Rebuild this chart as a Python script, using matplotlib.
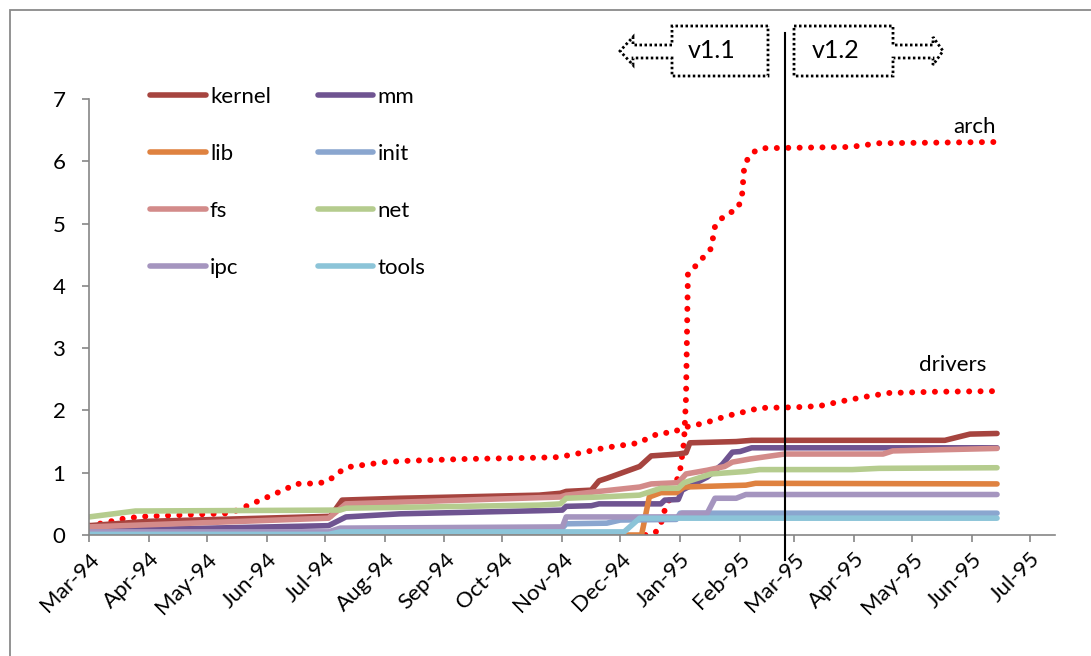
import numpy as np
import pandas as pd
import matplotlib
matplotlib.use('Agg')
import matplotlib.pyplot as plt
import matplotlib.dates as mdates
from matplotlib.patches import Polygon, Rectangle

plt.rcParams['font.family'] = ['Lato', 'DejaVu Sans']
plt.rcParams['font.size'] = 16

# relative size of each subtree (date, value)
kernel_d = ['1994-03-01', '1994-04-01', '1994-07-04', '1994-07-10', '1994-08-09', '1994-10-20',
            '1994-10-31', '1994-11-03', '1994-11-16', '1994-11-20', '1994-11-24', '1994-12-11',
            '1994-12-17', '1994-12-31', '1995-01-04', '1995-01-06', '1995-01-30', '1995-02-07',
            '1995-05-18', '1995-05-31', '1995-06-14']
kernel_v = [0.15, 0.22, 0.30, 0.56, 0.59, 0.64, 0.67, 0.70, 0.72, 0.87, 0.91, 1.10,
            1.27, 1.30, 1.32, 1.48, 1.50, 1.52, 1.52, 1.62, 1.63]

mm_d = ['1994-03-01', '1994-07-03', '1994-07-12', '1994-08-09', '1994-10-20', '1994-11-01',
        '1994-11-03', '1994-11-16', '1994-11-20', '1994-12-22', '1994-12-24', '1994-12-31',
        '1995-01-02', '1995-01-15', '1995-01-23', '1995-01-28', '1995-02-01', '1995-02-07',
        '1995-06-14']
mm_v = [0.07, 0.15, 0.29, 0.34, 0.39, 0.40, 0.46, 0.47, 0.50, 0.50, 0.56, 0.57,
        0.72, 0.93, 1.14, 1.33, 1.34, 1.40, 1.40]

lib_d = ['1994-07-01', '1994-12-12', '1994-12-16', '1994-12-22', '1994-12-30', '1995-01-03',
         '1995-02-04', '1995-02-09', '1995-06-14']
lib_v = [0.0, 0.0, 0.61, 0.68, 0.68, 0.77, 0.80, 0.83, 0.82]

init_d = ['1994-03-01', '1994-07-03', '1994-07-10', '1994-11-01', '1994-11-03', '1994-11-24',
          '1994-12-01', '1994-12-30', '1995-01-01', '1995-06-14']
init_v = [0.04, 0.04, 0.10, 0.11, 0.18, 0.19, 0.24, 0.25, 0.35, 0.35]

fs_d = ['1994-03-01', '1994-07-03', '1994-07-12', '1994-10-31', '1994-11-03', '1994-11-20',
        '1994-12-11', '1994-12-17', '1994-12-31', '1995-01-04', '1995-01-15', '1995-01-24',
        '1995-01-28', '1995-02-06', '1995-02-24', '1995-04-16', '1995-04-21', '1995-06-14']
fs_v = [0.13, 0.27, 0.50, 0.61, 0.64, 0.70, 0.77, 0.82, 0.84, 0.98, 1.04, 1.10,
        1.17, 1.22, 1.30, 1.30, 1.35, 1.39]

net_d = ['1994-03-01', '1994-03-25', '1994-07-09', '1994-07-12', '1994-10-20', '1994-10-31',
         '1994-11-03', '1994-11-20', '1994-12-11', '1994-12-22', '1994-12-31', '1995-01-03',
         '1995-01-17', '1995-02-04', '1995-02-11', '1995-03-31', '1995-04-14', '1995-06-14']
net_v = [0.29, 0.385, 0.40, 0.43, 0.48, 0.50, 0.59, 0.61, 0.64, 0.75, 0.75, 0.84,
         0.98, 1.02, 1.05, 1.05, 1.07, 1.08]

ipc_d = ['1994-03-01', '1994-07-03', '1994-07-09', '1994-11-01', '1994-11-03', '1994-12-31',
         '1995-01-02', '1995-01-15', '1995-01-19', '1995-01-30', '1995-02-04', '1995-06-14']
ipc_v = [0.05, 0.05, 0.11, 0.13, 0.29, 0.29, 0.35, 0.35, 0.59, 0.59, 0.65, 0.65]

tools_d = ['1994-03-01', '1994-07-03', '1994-07-09', '1994-12-03', '1994-12-11', '1995-06-14']
tools_v = [0.01, 0.01, 0.05, 0.05, 0.27, 0.27]

arch_d = ['1994-12-14', '1994-12-19', '1994-12-22', '1994-12-24', '1994-12-29', '1995-01-01',
          '1995-01-03', '1995-01-04', '1995-01-05', '1995-01-09', '1995-01-13', '1995-01-17',
          '1995-01-19', '1995-01-23', '1995-01-31', '1995-02-02', '1995-02-03', '1995-02-05',
          '1995-02-09', '1995-02-13', '1995-03-30', '1995-04-14', '1995-06-14']
arch_v = [0.0, 0.03, 0.18, 0.40, 0.75, 1.05, 1.5, 2.2, 4.2, 4.32, 4.46, 4.6,
          4.95, 5.1, 5.25, 5.45, 5.85, 6.05, 6.17, 6.21, 6.23, 6.29, 6.31]

drivers_d = ['1994-03-01', '1994-03-08', '1994-03-20', '1994-03-31', '1994-05-13', '1994-05-19',
             '1994-05-31', '1994-06-11', '1994-06-16', '1994-06-28', '1994-07-03', '1994-07-08',
             '1994-07-13', '1994-07-20', '1994-08-01', '1994-08-12', '1994-09-11', '1994-10-18',
             '1994-10-30', '1994-11-11', '1994-11-23', '1994-12-11', '1994-12-16', '1994-12-22',
             '1994-12-28', '1995-01-02', '1995-01-14', '1995-01-25', '1995-02-05', '1995-02-11',
             '1995-03-01', '1995-03-14', '1995-03-26', '1995-04-07', '1995-04-19', '1995-05-13',
             '1995-06-14']
drivers_v = [0.15, 0.19, 0.27, 0.30, 0.35, 0.43, 0.59, 0.74, 0.82, 0.83, 0.87, 1.0,
             1.09, 1.12, 1.17, 1.19, 1.22, 1.24, 1.25, 1.32, 1.40, 1.48, 1.57, 1.64,
             1.64, 1.72, 1.80, 1.91, 1.99, 2.04, 2.05, 2.07, 2.15, 2.22, 2.28, 2.30, 2.31]

release_12 = '1995-02-24'

series = [
    ('kernel', kernel_d, kernel_v, '#A6443F'),
    ('mm', mm_d, mm_v, '#6F5491'),
    ('lib', lib_d, lib_v, '#DF8240'),
    ('init', init_d, init_v, '#8AA6CF'),
    ('fs', fs_d, fs_v, '#D38B8A'),
    ('net', net_d, net_v, '#B5CC8E'),
    ('ipc', ipc_d, ipc_v, '#A595BF'),
    ('tools', tools_d, tools_v, '#8CC4D8'),
]

W, H = 1091, 656
fig = plt.figure(figsize=(W / 100, H / 100), dpi=100)
ax = fig.add_axes([89 / W, 1 - 535 / H, (1055 - 89) / W, (535 - 99) / H])

dots = (0, (0.01, 1.9))
for name, d, v in [('arch', arch_d, arch_v), ('drivers', drivers_d, drivers_v)]:
    ax.plot(pd.to_datetime(d), v, color='#FF0000', lw=4.3, linestyle=dots,
            dash_capstyle='round', zorder=1)

lines = {}
for name, d, v, c in series:
    ln, = ax.plot(pd.to_datetime(d), v, color=c, lw=4.0, label=name,
                  solid_capstyle='round', solid_joinstyle='round', zorder=2)
    lines[name] = ln

# end labels for the dotted series
ax.annotate('arch', (pd.Timestamp(arch_d[-1]), arch_v[-1]), xytext=(-16, 11),
            textcoords='offset points', ha='center', va='center')
ax.annotate('drivers', (pd.Timestamp(drivers_d[-1]), drivers_v[-1]), xytext=(-32, 19),
            textcoords='offset points', ha='center', va='center')

# release line
ax.plot([pd.Timestamp(release_12)] * 2, [-0.057, 1.151], color='black', lw=1.5,
        transform=ax.get_xaxis_transform(), clip_on=False, zorder=5)

ax.set_ylim(0, 7)
ax.set_xlim(pd.Timestamp('1994-03-01'), pd.Timestamp('1995-07-14'))
ax.set_yticks(range(8))
ax.xaxis.set_major_locator(mdates.MonthLocator())
ax.xaxis.set_major_formatter(mdates.DateFormatter('%b-%y'))
for lab in ax.get_xticklabels():
    lab.set_rotation(45)
    lab.set_ha('right')
    lab.set_rotation_mode('anchor')

gray = '#868686'
for s in ['top', 'right']:
    ax.spines[s].set_visible(False)
for s in ['left', 'bottom']:
    ax.spines[s].set_color(gray)
    ax.spines[s].set_linewidth(1.2)
ax.tick_params(axis='y', direction='out', length=5, width=1.2, color=gray, pad=12)
ax.tick_params(axis='x', direction='out', length=5, width=1.2, color=gray, pad=5)

order = ['kernel', 'lib', 'fs', 'ipc', 'mm', 'init', 'net', 'tools']
leg = ax.legend([lines[n] for n in order], order, ncol=2, frameon=False,
                loc='upper left', bbox_to_anchor=(150 / W, 1 - 87 / H),
                bbox_transform=fig.transFigure, borderpad=0, borderaxespad=0,
                handlelength=2.5, handletextpad=0.2, columnspacing=2.1,
                labelspacing=1.66)

# version callouts
def px(points):
    return [(x / W, 1 - y / H) for x, y in points]

left_call = [(768, 26), (672, 26), (672, 45), (633, 45), (633, 37), (620, 51),
             (633, 65), (633, 58), (672, 58), (672, 76), (768, 76)]
right_call = [(794, 26), (893, 26), (893, 45), (933, 45), (933, 37), (943, 51),
              (933, 65), (933, 58), (893, 58), (893, 76), (794, 76)]
for pts in [left_call, right_call]:
    fig.patches.append(Polygon(px(pts), closed=True, fill=False, edgecolor='black',
                               lw=2.0, linestyle=(0, (0.9, 0.9)), transform=fig.transFigure))
fig.text(712 / W, 1 - 51 / H, 'v1.1', ha='center', va='center', fontsize=18)
fig.text(836 / W, 1 - 51 / H, 'v1.2', ha='center', va='center', fontsize=18)

# chart border
fig.patches.append(Rectangle((10 / W, -0.1), 1.2, 1.1 - 10 / H, fill=False,
                             edgecolor='#8A8A8A', lw=1.3, transform=fig.transFigure))

fig.savefig('out.png', dpi=100)
